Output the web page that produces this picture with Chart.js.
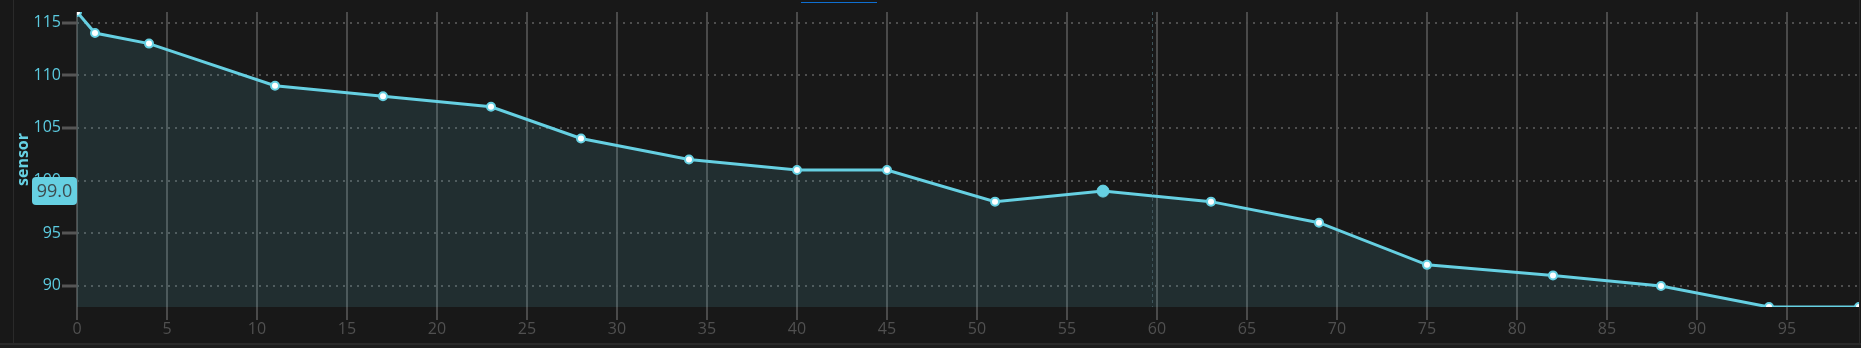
<!DOCTYPE html>
<html>
<head>
<meta charset="utf-8">
<script src="https://cdn.jsdelivr.net/npm/chart.js@4.4.1/dist/chart.umd.min.js"></script>
<style>
  html, body { margin: 0; padding: 0; background: #181818; width: 1861px; height: 348px; overflow: hidden; }
  #wrap { position: absolute; left: 13px; top: 0; width: 1845px; height: 343px; overflow: hidden; border-left: 1px solid #2a2a2a; border-right: 1px solid #2a2a2a; }
  #bottomLine { position: absolute; left: 0; top: 343px; width: 1861px; height: 2px; background: #2a2a2a; }
  #below { position: absolute; left: 0; top: 345px; width: 1861px; height: 3px; background: #1d1d1d; }
  #tabLine { position: absolute; left: 801px; top: 2px; width: 76px; height: 1px; background: #0f6fd1; }
  canvas { display: block; }
</style>
</head>
<body>
<div id="wrap"><canvas id="sensorChart" width="1851" height="343"></canvas></div>
<div id="bottomLine"></div>
<div id="below"></div>
<div id="tabLine"></div>
<script>
// readings (x = sample index, y = sensor value)
const sampleIdx = [0, 1, 4, 11, 17, 23, 28, 34, 40, 45, 51, 57, 63, 69, 75, 82, 88, 94, 99];
const sensorVals = [116, 114, 113, 109, 108, 107, 104, 102, 101, 101, 98, 99, 98, 96, 92, 91, 90, 88, 88];
const xTicks = [0, 5, 10, 15, 20, 25, 30, 35, 40, 45, 50, 55, 60, 65, 70, 75, 80, 85, 90, 95];
const yTicks = [90, 95, 100, 105, 110, 115];

const hoverIndex = 11;     // point under the cursor
const cursorX = 59.7;      // cursor position on the x axis

const cyan = '#66d0e2';

// crosshair + value label on the y axis
const crosshair = {
    id: 'crosshair',
    afterDatasetsDraw(chart) {
        const { ctx, chartArea, scales } = chart;
        const x = scales.x.getPixelForValue(cursorX);
        ctx.save();
        ctx.strokeStyle = '#3f555b';
        ctx.lineWidth = 1;
        ctx.setLineDash([3, 3]);
        ctx.beginPath();
        ctx.moveTo(Math.round(x) + 0.5, chartArea.top);
        ctx.lineTo(Math.round(x) + 0.5, chartArea.bottom);
        ctx.stroke();
        ctx.restore();
    },
    afterDraw(chart) {
        const { ctx, chartArea, scales } = chart;
        const val = sensorVals[hoverIndex];
        const y = scales.y.getPixelForValue(val);
        const w = 45, h = 28;
        const left = chartArea.left - w;
        ctx.save();
        ctx.fillStyle = cyan;
        ctx.beginPath();
        ctx.roundRect(left, y - h / 2, w, h, 4);
        ctx.fill();
        ctx.fillStyle = '#3d4a4e';
        ctx.font = '18px "Open Sans"';
        ctx.textAlign = 'center';
        ctx.textBaseline = 'middle';
        ctx.fillText(val.toFixed(1), left + w / 2, y + 1);
        ctx.restore();
    }
};

const ctxSensor = document.getElementById('sensorChart').getContext('2d');
const sensorChart = new Chart(ctxSensor, {
    type: 'line',
    data: {
        datasets: [{
            label: 'sensor',
            data: sampleIdx.map((x, i) => ({ x: x, y: sensorVals[i] })),
            borderColor: cyan,
            borderWidth: 3,
            backgroundColor: 'rgba(102, 208, 226, 0.12)',
            fill: 'start',
            tension: 0,
            pointRadius: ctx => ctx.dataIndex === hoverIndex ? 6 : 4,
            pointBorderWidth: ctx => ctx.dataIndex === hoverIndex ? 1 : 2,
            pointBackgroundColor: ctx => ctx.dataIndex === hoverIndex ? cyan : '#ffffff',
            pointBorderColor: cyan
        }]
    },
    plugins: [crosshair],
    options: {
        responsive: false,
        animation: false,
        events: [],
        layout: { padding: { top: 12, right: 0, left: 0, bottom: 0 } },
        plugins: {
            legend: { display: false },
            tooltip: { enabled: false }
        },
        scales: {
            x: {
                type: 'linear',
                min: 0,
                max: 99,
                afterFit: scale => { scale.height = 36; },
                afterBuildTicks: scale => { scale.ticks = xTicks.map(v => ({ value: v })); },
                ticks: {
                    color: '#505050',
                    padding: 0,
                    maxRotation: 0,
                    font: { family: 'Open Sans', size: 16 }
                },
                grid: {
                    color: '#4a4a4a',
                    lineWidth: 2,
                    tickLength: 13
                },
                border: { display: false }
            },
            y: {
                min: 88,
                max: 116,
                afterFit: scale => { scale.width = 63; },
                afterBuildTicks: scale => { scale.ticks = yTicks.map(v => ({ value: v })); },
                title: {
                    display: true,
                    text: 'sensor',
                    color: cyan,
                    padding: { top: 0, bottom: 0 },
                    font: { family: 'Open Sans', size: 16, weight: 'bold' }
                },
                ticks: {
                    color: '#5ccbe0',
                    padding: 1,
                    font: { family: 'Open Sans', size: 16 }
                },
                grid: {
                    color: '#4e4e4e',
                    lineWidth: 2,
                    tickLength: 15,
                    tickColor: '#555555',
                    tickWidth: 3
                },
                border: { display: false, dash: [2, 5] }
            }
        }
    }
});
</script>
</body>
</html>
